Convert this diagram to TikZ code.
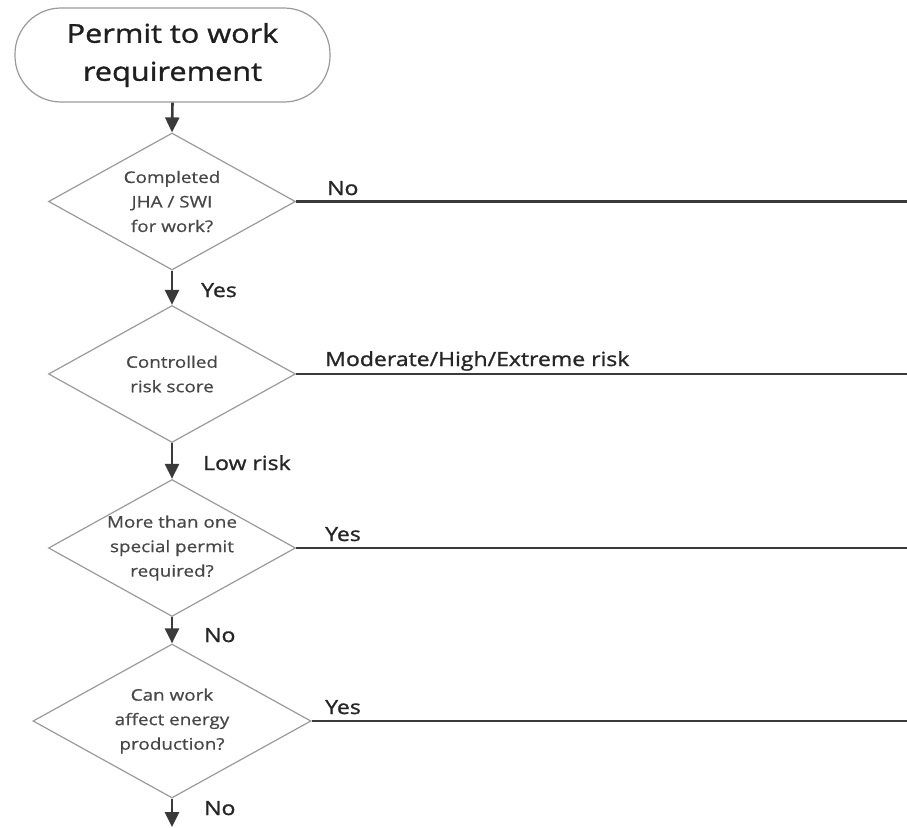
\documentclass[tikz,border=0pt]{standalone}
\usepackage{fontspec}
\setmainfont{Open Sans}[FakeStretch=1.18]
\newfontfamily\flowfont{Open Sans}[FakeStretch=1.18, FakeBold=1.2]
\newfontfamily\askfont{Open Sans}[FakeStretch=1.18, FakeBold=0.7]
\usetikzlibrary{shapes.geometric,arrows.meta}
\definecolor{edgegray}{HTML}{9A9A9A}
\definecolor{flowline}{HTML}{3A3A3A}
\definecolor{qtext}{HTML}{474747}
\definecolor{lbltext}{HTML}{262626}
\begin{document}
\begin{tikzpicture}[x=1pt,y=-1pt,
  terminal/.style={draw=edgegray, line width=1.2pt, rectangle, rounded corners=46pt,
    minimum width=315pt, minimum height=94pt, inner sep=0pt, align=center,
    font=\flowfont\fontsize{26}{38}\selectfont, text=black!88},
  decision/.style={draw=edgegray, line width=1.2pt, diamond, inner sep=0pt,
    minimum width=247pt, minimum height=137pt},
  asktext/.style={inner sep=0pt, align=center,
    font=\askfont\fontsize{16}{24.5}\selectfont, text=qtext},
  flow/.style={draw=flowline, line width=2.6pt, -{Triangle[length=15pt,width=14pt]}},
  branch/.style={draw=flowline, line width=2.6pt},
  lbl/.style={anchor=base west, inner sep=0pt, text=lbltext, font=\flowfont\fontsize{19.5}{21}\selectfont},
]
\useasboundingbox (0,0) rectangle (907,827);

% start terminal
\node[terminal] (start) at (172.5,55) {Permit to work\\requirement};

% the four question diamonds
\node[decision] (jha) at (172,201.5) {};
\node[decision] (risk) at (172,374) {};
\node[decision] (special) at (172,548) {};
\node[decision, minimum width=278pt, minimum height=154pt] (energy) at (172,721) {};

% question texts
\node[asktext] (jhaText) at (jha.center) {Completed\\JHA / SWI\\for work?};
\node[asktext] (riskText) at (risk.center) {Controlled\\risk score};
\node[asktext] (specialText) at (special.center) {More than one\\special permit\\required?};
\node[asktext] (energyText) at (energy.center) {Can work\\affect energy\\production?};

% free ends of the branches leaving the page
\coordinate (jhaOut) at (907,201.5);
\coordinate (riskOut) at (907,374);
\coordinate (specialOut) at (907,548);
\coordinate (energyOut) at (907,721);
\coordinate (bottomOut) at (172,827);

% main downward flow
\draw[flow] (start.south) -- (jha.north);
\draw[flow] (jha.south) -- (risk.north);
\draw[flow] (risk.south) -- (special.north);
\draw[flow] (special.south) -- (energy.north);
\draw[flow] (energy.south) -- (bottomOut);

% side branches
\draw[branch] (jha.east) -- (jhaOut);
\draw[branch] (risk.east) -- (riskOut);
\draw[branch] (special.east) -- (specialOut);
\draw[branch] (energy.east) -- (energyOut);

% branch labels
\node[lbl] (lNo1) at (327,195) {No};
\node[lbl] (lRisk) at (325,366) {Moderate/High/Extreme risk};
\node[lbl] (lYes3) at (325,541) {Yes};
\node[lbl] (lYes4) at (325,714) {Yes};
\node[lbl] (lYes1) at (201,297) {Yes};
\node[lbl] (lLow) at (203,470) {Low risk};
\node[lbl] (lNo3) at (204,642) {No};
\node[lbl] (lNo4) at (204,815) {No};
\end{tikzpicture}
\end{document}
